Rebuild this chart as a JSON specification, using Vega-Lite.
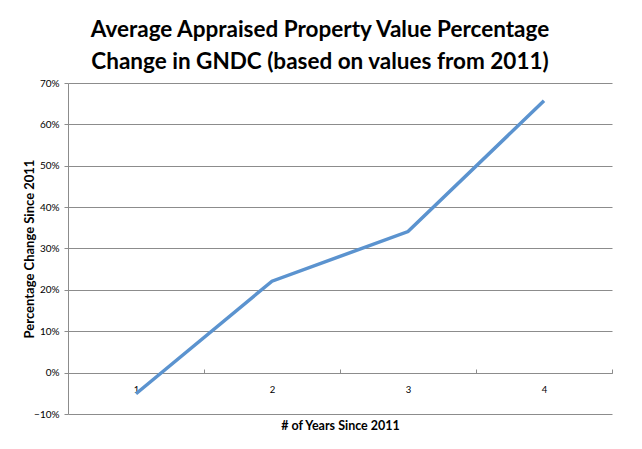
{
  "$schema": "https://vega.github.io/schema/vega-lite/v6.json",
  "autosize": "none",
  "width": 544,
  "height": 331,
  "padding": {"left": 68, "top": 83, "right": 30, "bottom": 35},
  "background": "white",
  "config": {
    "font": "Lato",
    "view": {"stroke": null}
  },
  "title": {
    "text": ["Average Appraised Property Value Percentage", "Change in GNDC (based on values from 2011)"],
    "fontSize": 22.5,
    "fontWeight": "bold",
    "font": "Lato",
    "color": "black",
    "lineHeight": 32,
    "anchor": "middle",
    "dx": -20,
    "offset": 5
  },
  "data": {
    "values": [
      {"year": "1", "change": -0.051},
      {"year": "2", "change": 0.221},
      {"year": "3", "change": 0.341},
      {"year": "4", "change": 0.657}
    ]
  },
  "mark": {"type": "line", "color": "#5B93CF", "strokeWidth": 3.5},
  "encoding": {
    "x": {
      "field": "year",
      "type": "ordinal",
      "scale": {"type": "band", "paddingInner": 0, "paddingOuter": 0},
      "axis": {
        "title": "# of Years Since 2011",
        "titleFontSize": 12.5,
        "titleFontWeight": "bold",
        "titleColor": "black",
        "titlePadding": 26,
        "labelAngle": 0,
        "labelFontSize": 9.5,
        "labelColor": "black",
        "offset": -41,
        "domainColor": "#8c8c8c",
        "tickColor": "#8c8c8c",
        "tickBand": "extent",
        "tickSize": -4,
        "labelPadding": 15,
        "grid": false
      }
    },
    "y": {
      "field": "change",
      "type": "quantitative",
      "scale": {"domain": [-0.1, 0.7], "nice": false, "zero": false},
      "axis": {
        "title": "Percentage Change Since 2011",
        "titleFontSize": 13,
        "titleFontWeight": "bold",
        "titleColor": "black",
        "titlePadding": -3,
        "values": [-0.1, 0, 0.1, 0.2, 0.3, 0.4, 0.5, 0.6, 0.7],
        "format": ".0%",
        "labelFontSize": 10,
        "labelColor": "black",
        "labelPadding": 5,
        "tickSize": 4,
        "domainColor": "#8c8c8c",
        "tickColor": "#8c8c8c",
        "gridColor": "#8c8c8c",
        "grid": true
      }
    }
  }
}
